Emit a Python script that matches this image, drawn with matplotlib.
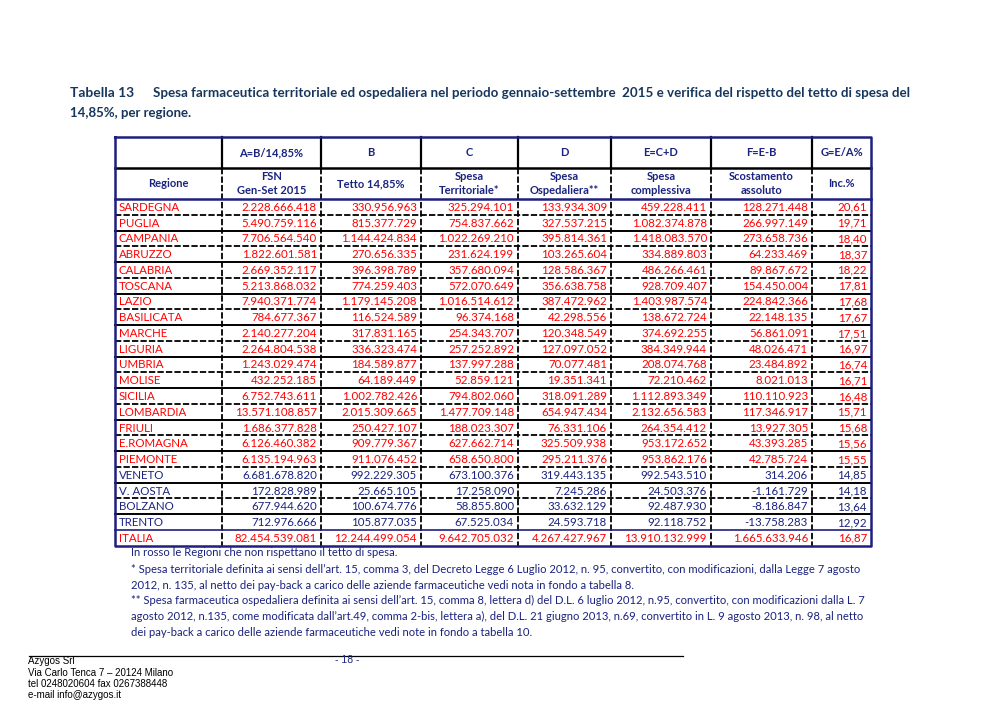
import matplotlib
matplotlib.use("Agg")
import matplotlib.pyplot as plt

# dati della tabella
regioni = ["SARDEGNA", "PUGLIA", "CAMPANIA", "ABRUZZO", "CALABRIA", "TOSCANA", "LAZIO",
           "BASILICATA", "MARCHE", "LIGURIA", "UMBRIA", "MOLISE", "SICILIA", "LOMBARDIA",
           "FRIULI", "E.ROMAGNA", "PIEMONTE", "VENETO", "V. AOSTA", "BOLZANO", "TRENTO", "ITALIA"]
fsn = [2228666418, 5490759116, 7706564540, 1822601581, 2669352117, 5213868032, 7940371774,
       784677367, 2140277204, 2264804538, 1243029474, 432252185, 6752743611, 13571108857,
       1686377828, 6126460382, 6135194963, 6681678820, 172828989, 677944620, 712976666, 82454539081]
tetto = [330956963, 815377729, 1144424834, 270656335, 396398789, 774259403, 1179145208,
         116524589, 317831165, 336323474, 184589877, 64189449, 1002782426, 2015309665,
         250427107, 909779367, 911076452, 992229305, 25665105, 100674776, 105877035, 12244499054]
territoriale = [325294101, 754837662, 1022269210, 231624199, 357680094, 572070649, 1016514612,
                96374168, 254343707, 257252892, 137997288, 52859121, 794802060, 1477709148,
                188023307, 627662714, 658650800, 673100376, 17258090, 58855800, 67525034, 9642705032]
ospedaliera = [133934309, 327537215, 395814361, 103265604, 128586367, 356638758, 387472962,
               42298556, 120348549, 127097052, 70077481, 19351341, 318091289, 654947434,
               76331106, 325509938, 295211376, 319443135, 7245286, 33632129, 24593718, 4267427967]
complessiva = [459228411, 1082374878, 1418083570, 334889803, 486266461, 928709407, 1403987574,
               138672724, 374692255, 384349944, 208074768, 72210462, 1112893349, 2132656583,
               264354412, 953172652, 953862176, 992543510, 24503376, 92487930, 92118752, 13910132999]
scostamento = [128271448, 266997149, 273658736, 64233469, 89867672, 154450004, 224842366,
               22148135, 56861091, 48026471, 23484892, 8021013, 110110923, 117346917,
               13927305, 43393285, 42785724, 314206, -1161729, -8186847, -13758283, 1665633946]
inc = [20.61, 19.71, 18.40, 18.37, 18.22, 17.81, 17.68, 17.67, 17.51, 16.97, 16.74, 16.71,
       16.48, 15.71, 15.68, 15.56, 15.55, 14.85, 14.18, 13.64, 12.92, 16.87]

intest1 = ["", "A=B/14,85%", "B", "C", "D", "E=C+D", "F=E-B", "G=E/A%"]
intest2 = ["Regione", "FSN\nGen-Set 2015", "Tetto 14,85%", "Spesa\nTerritoriale*",
           "Spesa\nOspedaliera**", "Spesa\ncomplessiva", "Scostamento\nassoluto", "Inc.%"]

note = ["In rosso le Regioni che non rispettano il tetto di spesa.",
        "* Spesa territoriale definita ai sensi dell\u2019art. 15, comma 3, del Decreto Legge 6 Luglio 2012, n. 95, convertito, con modificazioni, dalla Legge 7 agosto",
        "2012, n. 135, al netto dei pay-back a carico delle aziende farmaceutiche vedi nota in fondo a tabella 8.",
        "** Spesa farmaceutica ospedaliera definita ai sensi dell\u2019art. 15, comma 8, lettera d) del D.L. 6 luglio 2012, n.95, convertito, con modificazioni dalla L. 7",
        "agosto 2012, n.135, come modificata dall\u2019art.49, comma 2-bis, lettera a), del D.L. 21 giugno 2013, n.69, convertito in L. 9 agosto 2013, n. 98, al netto",
        "dei pay-back a carico delle aziende farmaceutiche vedi note in fondo a tabella 10."]

piede = ["Azygos Srl", "Via Carlo Tenca 7 \u2013 20124 Milano", "tel 0248020604 fax 0267388448",
         "e-mail info@azygos.it"]

ROSSO = "#FF0000"
BLU = "#1A237E"
NAVY = "#1F1F80"
TITOLO = "#17365D"
FONT = "Lato"


def fmt(v):
    return f"{v:,}".replace(",", ".")


fig = plt.figure(figsize=(10.02, 7.09), dpi=100)
ax = fig.add_axes([0, 0, 1, 1])
ax.set_xlim(0, 1002)
ax.set_ylim(709, 0)
ax.axis("off")

# titolo
ax.text(70, 97, "Tabella 13", fontsize=10, fontweight="bold", color=TITOLO, family=FONT, va="baseline")
ax.text(153, 97, "Spesa farmaceutica territoriale ed ospedaliera nel periodo gennaio-settembre  2015 e verifica del rispetto del tetto di spesa del",
        fontsize=9.6, fontweight="bold", color=TITOLO, family=FONT, va="baseline")
ax.text(70, 117, "14,85%, per regione.", fontsize=9.5, fontweight="bold", color=TITOLO, family=FONT, va="baseline")

# geometria tabella
xs = [115, 222, 321, 421, 518, 611, 711, 812, 871]
y_top, y_h1, y_h2 = 137, 168, 199
rh = (545.7 - y_h2) / len(regioni)
y_bot = y_h2 + rh * len(regioni)
dash = (0, (3.5, 1.2))

# linee verticali
for x in xs[1:-1]:
    ax.plot([x, x], [y_top, y_h1], color="black", lw=1.6)
    ax.plot([x, x], [y_h1, y_bot], color="black", lw=1.3, linestyle=dash)

# linee orizzontali tra le righe
for i in range(1, len(regioni)):
    y = y_h2 + i * rh
    if i == len(regioni) - 1:
        ax.plot([xs[0], xs[-1]], [y, y], color=NAVY, lw=1.2)
    elif i % 2 == 0:
        ax.plot([xs[0], xs[-1]], [y, y], color="black", lw=1.4)
    else:
        ax.plot([xs[0], xs[-1]], [y, y], color="black", lw=1.3, linestyle=dash)

ax.plot([xs[0], xs[-1]], [y_h1, y_h1], color="black", lw=1.8)
ax.plot([xs[0], xs[-1]], [y_h2, y_h2], color=NAVY, lw=1.8)
ax.plot([xs[0], xs[-1], xs[-1], xs[0], xs[0]], [y_top, y_top, y_bot, y_bot, y_top], color=NAVY, lw=1.8)

# intestazioni
for j in range(8):
    cx = (xs[j] + xs[j + 1]) / 2
    ax.text(cx, (y_top + y_h1) / 2, intest1[j], ha="center", va="center", fontsize=8,
            fontweight="bold", color=BLU, family=FONT)
    ax.text(cx, (y_h1 + y_h2) / 2, intest2[j], ha="center", va="center", fontsize=8,
            fontweight="bold", color=BLU, family=FONT, linespacing=1.25)

# righe dati
colonne = [fsn, tetto, territoriale, ospedaliera, complessiva, scostamento]
for i, reg in enumerate(regioni):
    yb = y_h2 + (i + 0.5) * rh + 4
    col = ROSSO if inc[i] > 14.85 else BLU
    ax.text(xs[0] + 4, yb, reg, ha="left", va="baseline", fontsize=8.3, color=col, family=FONT)
    for j, serie in enumerate(colonne):
        ax.text(xs[j + 2] - 4, yb, fmt(serie[i]), ha="right", va="baseline", fontsize=8.3,
                color=col, family=FONT)
    ax.text(xs[-1] - 4, yb, f"{inc[i]:.2f}".replace(".", ","), ha="right", va="baseline",
            fontsize=8.3, color=col, family=FONT)

# note
y_note = [556, 573, 589, 604, 620, 636]
for t, y in zip(note, y_note):
    ax.text(131, y, t, ha="left", va="baseline", fontsize=8.1, color=BLU, family=FONT)

# piè di pagina
ax.plot([29, 683], [656, 656], color="black", lw=0.9)
ax.text(347, 663, "- 18 -", ha="center", va="baseline", fontsize=7.5, color=BLU, family="Liberation Sans")
for k, t in enumerate(piede):
    ax.text(28, 664 + k * 11.5, t, ha="left", va="baseline", fontsize=7, color="black",
            family="Liberation Sans")

fig.savefig("out.png", dpi=100)
